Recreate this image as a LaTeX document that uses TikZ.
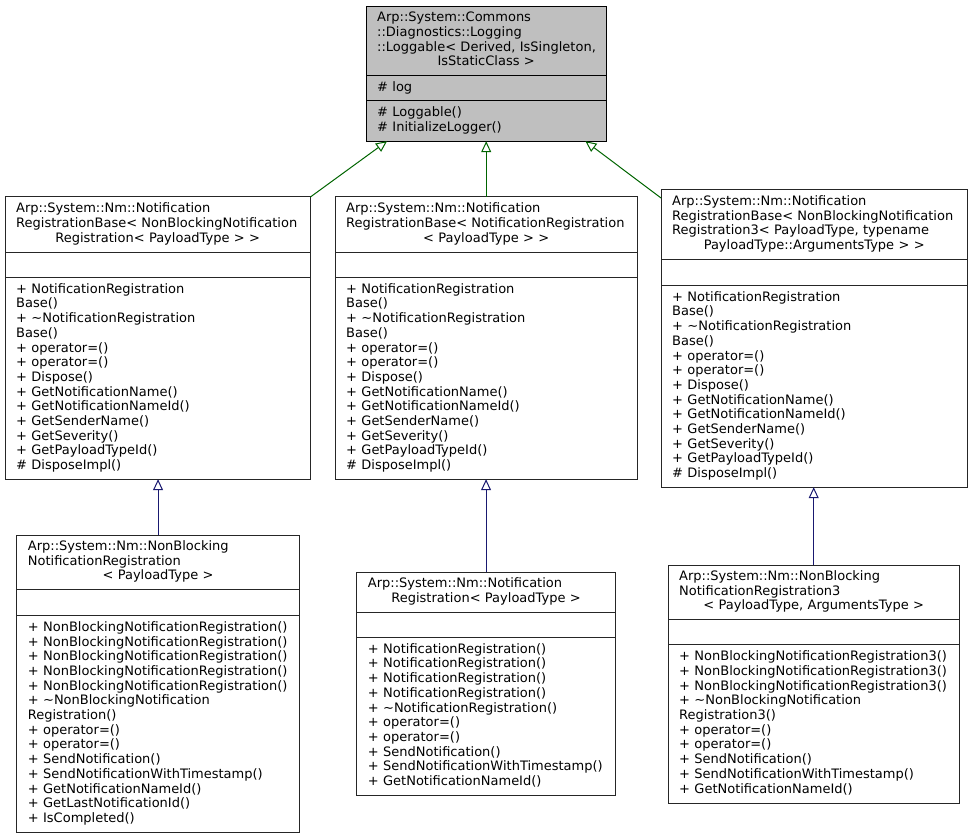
\documentclass[tikz,border=0pt]{standalone}
\usepackage{fontspec}
\setmainfont{DejaVu Sans}
\usetikzlibrary{arrows.meta}
\definecolor{dkgreen}{RGB}{0,100,0}
\definecolor{midblue}{RGB}{25,25,112}
\definecolor{grey75}{RGB}{191,191,191}
\newcommand\myl[1]{\mbox{\strut#1}\par}
\newcommand\myc[1]{\centerline{\strut#1}}
\newcommand\clsframe[4]{\draw[#4] (#1.north west) rectangle (#3.south east)
  (#2.north west) -- (#2.north east) (#2.south west) -- (#2.south east);}
\begin{document}
\begin{tikzpicture}[x=1pt,y=-1pt,
  font=\fontsize{13}{14.7}\selectfont,
  cls/.style 2 args={draw=none, fill=white, anchor=north west,
    inner xsep=11pt, inner ysep=0pt, minimum width=#1pt, text width=#2pt},
  rootcls/.style 2 args={cls={#1}{#2}, fill=grey75},
  frame/.style={draw=black!85, line width=1pt},
  rootframe/.style={draw=black, line width=1pt},
  inhg/.style={draw=dkgreen, line width=1pt, -{Triangle[open, length=11pt, width=10pt]}},
  inhb/.style={draw=midblue, line width=1pt, -{Triangle[open, length=11pt, width=10pt]}}]
\useasboundingbox (0,0) rectangle (972,837);

% Root class
\node[rootcls={240}{218}, minimum height=68.5pt] (rt) at (366,6.5) {%
  \myl{Arp::System::Commons}\myl{::Diagnostics::Logging}\myl{::Loggable< Derived, IsSingleton,}\myc{IsStaticClass >}};
\node[rootcls={240}{218}, minimum height=25pt] (ra) at (rt.south west) {\myl{\# log}};
\node[rootcls={240}{218}, minimum height=40pt] (rm) at (ra.south west) {%
  \myl{\# Loggable()}\myl{\# InitializeLogger()}};
\clsframe{rt}{ra}{rm}{rootframe}

% b1
\node[cls={305}{283}, minimum height=55pt] (b1t) at (5,197) {%
  \myl{Arp::System::Nm::Notification}\myl{RegistrationBase< NonBlockingNotification}\myc{Registration< PayloadType > >}};
\node[cls={305}{283}, minimum height=25pt] (b1a) at (b1t.south west) {};
\node[cls={305}{283}, minimum height=201pt] (b1m) at (b1a.south west) {%
  \myl{+ NotificationRegistration}\myl{Base()}\myl{+ \textasciitilde NotificationRegistration}\myl{Base()}%
  \myl{+ operator=()}\myl{+ operator=()}\myl{+ Dispose()}\myl{+ GetNotificationName()}%
  \myl{+ GetNotificationNameId()}\myl{+ GetSenderName()}\myl{+ GetSeverity()}%
  \myl{+ GetPayloadTypeId()}\myl{\# DisposeImpl()}};
\clsframe{b1t}{b1a}{b1m}{frame}

% b2
\node[cls={302}{280}, minimum height=55pt] (b2t) at (335,197) {%
  \myl{Arp::System::Nm::Notification}\myl{RegistrationBase< NotificationRegistration}\myc{< PayloadType > >}};
\node[cls={302}{280}, minimum height=25pt] (b2a) at (b2t.south west) {};
\node[cls={302}{280}, minimum height=201pt] (b2m) at (b2a.south west) {%
  \myl{+ NotificationRegistration}\myl{Base()}\myl{+ \textasciitilde NotificationRegistration}\myl{Base()}%
  \myl{+ operator=()}\myl{+ operator=()}\myl{+ Dispose()}\myl{+ GetNotificationName()}%
  \myl{+ GetNotificationNameId()}\myl{+ GetSenderName()}\myl{+ GetSeverity()}%
  \myl{+ GetPayloadTypeId()}\myl{\# DisposeImpl()}};
\clsframe{b2t}{b2a}{b2m}{frame}

% b3
\node[cls={306}{284}, minimum height=69pt] (b3t) at (661,190) {%
  \myl{Arp::System::Nm::Notification}\myl{RegistrationBase< NonBlockingNotification}\myl{Registration3< PayloadType, typename}\myc{PayloadType::ArgumentsType > >}};
\node[cls={306}{284}, minimum height=26pt] (b3a) at (b3t.south west) {};
\node[cls={306}{284}, minimum height=201pt] (b3m) at (b3a.south west) {%
  \myl{+ NotificationRegistration}\myl{Base()}\myl{+ \textasciitilde NotificationRegistration}\myl{Base()}%
  \myl{+ operator=()}\myl{+ operator=()}\myl{+ Dispose()}\myl{+ GetNotificationName()}%
  \myl{+ GetNotificationNameId()}\myl{+ GetSenderName()}\myl{+ GetSeverity()}%
  \myl{+ GetPayloadTypeId()}\myl{\# DisposeImpl()}};
\clsframe{b3t}{b3a}{b3m}{frame}

% b4
\node[cls={282.3}{260.3}, minimum height=54pt] (b4t) at (16.7,535) {%
  \myl{Arp::System::Nm::NonBlocking}\myl{NotificationRegistration}\myc{< PayloadType >}};
\node[cls={282.3}{260.3}, minimum height=26pt] (b4a) at (b4t.south west) {};
\node[cls={282.3}{260.3}, minimum height=216pt] (b4m) at (b4a.south west) {%
  \myl{+ NonBlockingNotificationRegistration()}\myl{+ NonBlockingNotificationRegistration()}%
  \myl{+ NonBlockingNotificationRegistration()}\myl{+ NonBlockingNotificationRegistration()}%
  \myl{+ NonBlockingNotificationRegistration()}\myl{+ \textasciitilde NonBlockingNotification}%
  \myl{Registration()}\myl{+ operator=()}\myl{+ operator=()}\myl{+ SendNotification()}%
  \myl{+ SendNotificationWithTimestamp()}\myl{+ GetNotificationNameId()}%
  \myl{+ GetLastNotificationId()}\myl{+ IsCompleted()}};
\clsframe{b4t}{b4a}{b4m}{frame}

% b5
\node[cls={258.3}{236.3}, minimum height=40pt] (b5t) at (356.7,572) {%
  \myl{Arp::System::Nm::Notification}\myc{Registration< PayloadType >}};
\node[cls={258.3}{236.3}, minimum height=25pt] (b5a) at (b5t.south west) {};
\node[cls={258.3}{236.3}, minimum height=157pt] (b5m) at (b5a.south west) {%
  \myl{+ NotificationRegistration()}\myl{+ NotificationRegistration()}%
  \myl{+ NotificationRegistration()}\myl{+ NotificationRegistration()}%
  \myl{+ \textasciitilde NotificationRegistration()}\myl{+ operator=()}\myl{+ operator=()}%
  \myl{+ SendNotification()}\myl{+ SendNotificationWithTimestamp()}\myl{+ GetNotificationNameId()}};
\clsframe{b5t}{b5a}{b5m}{frame}

% b6
\node[cls={291}{269}, minimum height=54pt] (b6t) at (668,565) {%
  \myl{Arp::System::Nm::NonBlocking}\myl{NotificationRegistration3}\myc{< PayloadType, ArgumentsType >}};
\node[cls={291}{269}, minimum height=25pt] (b6a) at (b6t.south west) {};
\node[cls={291}{269}, minimum height=158pt] (b6m) at (b6a.south west) {%
  \myl{+ NonBlockingNotificationRegistration3()}\myl{+ NonBlockingNotificationRegistration3()}%
  \myl{+ NonBlockingNotificationRegistration3()}\myl{+ \textasciitilde NonBlockingNotification}%
  \myl{Registration3()}\myl{+ operator=()}\myl{+ operator=()}\myl{+ SendNotification()}%
  \myl{+ SendNotificationWithTimestamp()}\myl{+ GetNotificationNameId()}};
\clsframe{b6t}{b6a}{b6m}{frame}

% inheritance edges
\draw[inhg] (b1t.north east) -- ([xshift=21pt]rm.south west);
\draw[inhg] (b2t.north) -- (b2t.north |- rm.south);
\draw[inhg] ([yshift=-8pt]b3t.north west) -- ([xshift=-21pt]rm.south east);
\draw[inhb] (b4t.north) -- (b4t.north |- b1m.south);
\draw[inhb] (b5t.north) -- (b5t.north |- b2m.south);
\draw[inhb] (b6t.north) -- (b6t.north |- b3m.south);
\end{tikzpicture}
\end{document}
